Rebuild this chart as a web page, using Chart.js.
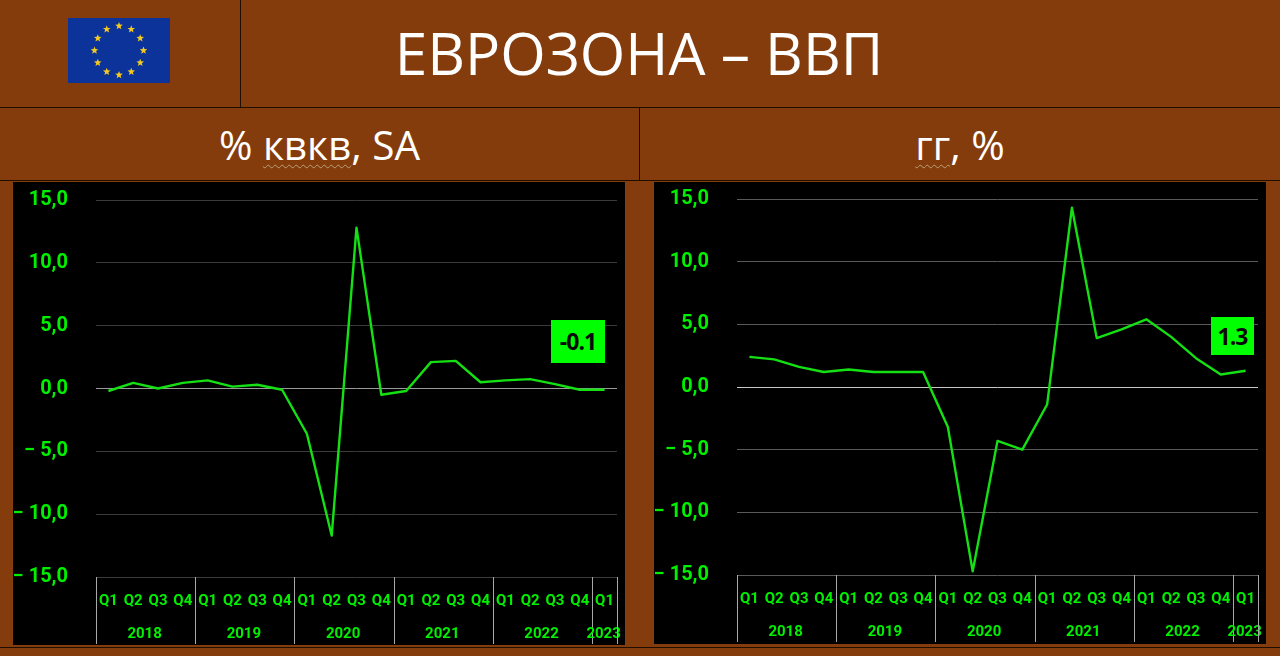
<!DOCTYPE html>
<html lang="ru">
<head>
<meta charset="utf-8">
<title>Еврозона – ВВП</title>
<script src="https://cdn.jsdelivr.net/npm/chart.js@4/dist/chart.umd.js"></script>
<style>
    html, body { margin: 0; padding: 0; }
    body { position: relative; width: 1280px; height: 656px; overflow: hidden; background: #843c0c; font-family: "Open Sans", sans-serif; color: #fff; }
    .rule { position: absolute; background: #1f0e02; }
    .title { position: absolute; left: 240px; width: 798px; top: 12px; text-align: center; font-size: 58.5px; line-height: 80px; white-space: nowrap; }
    .sub { position: absolute; top: 118px; text-align: center; font-size: 40.5px; line-height: 54px; white-space: nowrap; }
    .sub u { text-decoration: underline wavy #b8a078 1px; text-underline-offset: 4px; }
    .panel { position: absolute; background: #000; }
    .badge { position: absolute; background: #00ff00; color: #0a0a0a; text-align: center; font-size: 23px; font-weight: 700; letter-spacing: -1px; }
    #flag { position: absolute; left: 68px; top: 18px; }
</style>
</head>
<body>
<svg id="flag" width="102" height="65" viewBox="0 0 102 65"><rect width="102" height="65" fill="#0b3399"/></svg>

<div class="rule" style="left:240px;top:0;width:1px;height:107px"></div>
<div class="rule" style="left:0;top:107px;width:1280px;height:1px"></div>
<div class="rule" style="left:639px;top:107px;width:1px;height:73px"></div>
<div class="rule" style="left:0;top:180px;width:1280px;height:1px"></div>
<div class="rule" style="left:0;top:647px;width:1280px;height:1px"></div>

<div class="title">ЕВРОЗОНА – ВВП</div>
<div class="sub" style="left:0;width:639px"><span>% </span><u>квкв</u>, SA</div>
<div class="sub" style="left:640px;width:640px"><u>гг</u>, %</div>

<div class="panel" style="left:13px;top:182px;width:612px;height:463px"><canvas id="chartQoq" width="612" height="463"></canvas></div>
<div class="panel" style="left:654px;top:182px;width:612px;height:462px"><canvas id="chartYoy" width="612" height="462"></canvas></div>

<div class="badge" style="left:551px;top:320px;width:54px;height:43px;line-height:43px">-0.1</div>
<div class="badge" style="left:1211px;top:317px;width:43px;height:38px;line-height:38px">1.3</div>

<script>
// подписи кварталов
const quarters = ['Q1','Q2','Q3','Q4','Q1','Q2','Q3','Q4','Q1','Q2','Q3','Q4','Q1','Q2','Q3','Q4','Q1','Q2','Q3','Q4','Q1'];
// годы и число кварталов в каждом
const years = ['2018','2019','2020','2021','2022','2023'];
const yearSpans = [4, 4, 4, 4, 4, 1];

// значения рядов
const qoqValues = [-0.2, 0.45, 0.0, 0.45, 0.65, 0.15, 0.3, -0.1, -3.6, -11.7, 12.8, -0.5, -0.2, 2.1, 2.2, 0.5, 0.65, 0.75, 0.35, -0.1, -0.1];
const yoyValues = [2.4, 2.2, 1.6, 1.2, 1.4, 1.2, 1.2, 1.2, -3.2, -14.7, -4.3, -5.0, -1.4, 14.3, 3.9, 4.6, 5.4, 4.0, 2.3, 1.0, 1.3];

// деления оси Y
const yMin = -15;
const yMax = 15;
const yStep = 5;

const GREEN_TEXT = '#00f000';
const GREEN_LINE = '#14e014';
const AXIS_FONT = 'Roboto, sans-serif';

// рисуем звёзды флага
function drawFlag() {
    const svg = document.getElementById('flag');
    for (let i = 0; i < 12; i++) {
        const a = i * Math.PI / 6;
        const cx = 51 + 24.5 * Math.sin(a);
        const cy = 32.5 - 24.5 * Math.cos(a);
        const pts = [];
        for (let k = 0; k < 10; k++) {
            const r = k % 2 ? 1.7 : 4;
            const b = k * Math.PI / 5;
            pts.push((cx + r * Math.sin(b)).toFixed(2) + ',' + (cy - r * Math.cos(b)).toFixed(2));
        }
        const star = document.createElementNS('http://www.w3.org/2000/svg', 'polygon');
        star.setAttribute('points', pts.join(' '));
        star.setAttribute('fill', '#f2c91e');
        svg.appendChild(star);
    }
}

// формат подписи: запятая и длинный минус
function formatTick(value) {
    const text = Math.abs(value).toFixed(1).replace('.', ',');
    return value < 0 ? '\u2212 ' + text : text;
}

// разделители и подписи лет под осью X
const yearAxisPlugin = {
    id: 'yearAxis',
    afterDraw(chart, args, opts) {
        const { ctx, scales } = chart;
        const x = scales.x;
        const top = chart.chartArea.bottom;
        const step = x.getPixelForValue(1) - x.getPixelForValue(0);
        let start = 0;
        ctx.save();
        ctx.strokeStyle = opts.sepColor;
        ctx.lineWidth = 1;
        ctx.fillStyle = GREEN_TEXT;
        ctx.font = 'bold 15px ' + AXIS_FONT;
        ctx.textAlign = 'center';
        ctx.textBaseline = 'middle';
        const edge = (idx) => x.getPixelForValue(idx) - step / 2;
        years.forEach((year, i) => {
            const end = start + yearSpans[i];
            const left = edge(start);
            ctx.beginPath();
            ctx.moveTo(Math.round(left) + 0.5, top);
            ctx.lineTo(Math.round(left) + 0.5, top + opts.sepHeight);
            ctx.stroke();
            ctx.fillText(year, (left + edge(end)) / 2 - 1, top + opts.yearOffset);
            start = end;
        });
        const right = edge(start);
        ctx.beginPath();
        ctx.moveTo(Math.round(right) + 0.5, top);
        ctx.lineTo(Math.round(right) + 0.5, top + opts.sepHeight);
        ctx.stroke();
        ctx.restore();
    }
};

function makeChart(id, values, cfg) {
    const ctx = document.getElementById(id).getContext('2d');
    return new Chart(ctx, {
        type: 'line',
        data: {
            labels: quarters,
            datasets: [{
                data: values,
                borderColor: GREEN_LINE,
                borderWidth: 2.4,
                borderJoinStyle: 'round',
                pointRadius: 0,
                tension: 0,
                fill: false
            }]
        },
        options: {
            responsive: false,
            animation: false,
            layout: { padding: { top: cfg.top, right: 8, left: 0, bottom: 0 } },
            plugins: {
                legend: { display: false },
                tooltip: { enabled: false },
                yearAxis: { sepColor: '#a8a8a8', sepHeight: cfg.sepHeight, yearOffset: cfg.yearOffset }
            },
            scales: {
                x: {
                    offset: true,
                    grid: { display: false, drawTicks: false },
                    border: { display: false },
                    afterFit(scale) {
                        scale.height = cfg.bottom;
                        scale.paddingLeft = 0;
                        scale.paddingRight = 0;
                    },
                    ticks: {
                        autoSkip: false,
                        maxRotation: 0,
                        padding: 15,
                        color: GREEN_TEXT,
                        font: { family: AXIS_FONT, size: 15, weight: 'bold' }
                    }
                },
                y: {
                    min: yMin,
                    max: yMax,
                    afterFit(scale) {
                        scale.width = 83;
                        scale.paddingTop = 0;
                        scale.paddingBottom = 0;
                    },
                    grid: {
                        drawTicks: false,
                        color: (c) => c.tick.value === 0 ? cfg.zeroColor : cfg.gridColor
                    },
                    border: { display: false },
                    ticks: {
                        stepSize: yStep,
                        padding: 28,
                        color: GREEN_TEXT,
                        font: { family: AXIS_FONT, size: 20, weight: 'bold' },
                        callback: formatTick
                    }
                }
            }
        },
        plugins: [yearAxisPlugin]
    });
}

drawFlag();
makeChart('chartQoq', qoqValues, { top: 18, bottom: 68, sepHeight: 67, yearOffset: 57, gridColor: '#3a3a3a', zeroColor: '#9a9a9a' });
makeChart('chartYoy', yoyValues, { top: 17, bottom: 69, sepHeight: 67, yearOffset: 57, gridColor: '#5a5a5a', zeroColor: '#c8c8c8' });
</script>
</body>
</html>
